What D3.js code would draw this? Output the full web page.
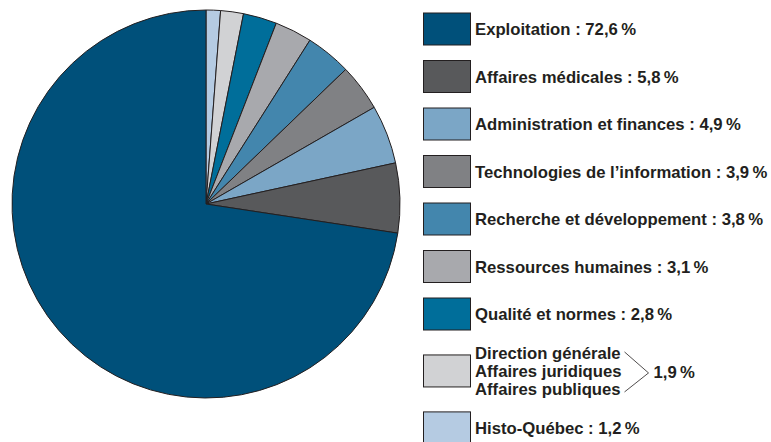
<!DOCTYPE html>
<html>
<head>
<meta charset="utf-8">
<script src="https://cdn.jsdelivr.net/npm/d3@7"></script>
<style>
  body { margin: 0; background: #fff; }
  svg text { font-family: "Liberation Sans", Arial, sans-serif; font-weight: bold; fill: #231f20; }
</style>
</head>
<body>
<svg id="chart" width="771" height="442"></svg>
<script>
// legend order (top to bottom)
const labels = [
    ['Exploitation'],
    ['Affaires médicales'],
    ['Administration et finances'],
    ['Technologies de l\u2019information'],
    ['Recherche et développement'],
    ['Ressources humaines'],
    ['Qualité et normes'],
    ['Direction générale', 'Affaires juridiques', 'Affaires publiques'],
    ['Histo-Québec'],
];
const shares = [72.6, 5.8, 4.9, 3.9, 3.8, 3.1, 2.8, 1.9, 1.2];
const colors = ['#00507a', '#58595b', '#7ba6c6', '#808184', '#4386ad', '#a8a9ad', '#006e9a', '#d1d2d4', '#b5cbe2'];

const locale = d3.formatLocale({ decimal: ',', thousands: '\u00a0', grouping: [3], currency: ['', ''] });
const fmt = v => locale.format('.1f')(v) + '\u2009%';

const svg = d3.select('#chart');
const stroke = '#231f20';

// pie: slices run clockwise from 12 o'clock, smallest first
const items = labels.map((l, i) => ({ label: l, value: shares[i], color: colors[i] }));
const pieOrder = items.slice().reverse();

const cx = 206, cy = 204, radius = 194;
const pie = d3.pie().sort(null).value(d => d.value);
const arc = d3.arc().innerRadius(0).outerRadius(radius);

const g = svg.append('g').attr('transform', `translate(${cx},${cy})`);
g.selectAll('path')
    .data(pie(pieOrder))
    .enter().append('path')
    .attr('d', arc)
    .attr('fill', d => d.data.color)
    .attr('stroke', stroke)
    .attr('stroke-width', 1)
    .attr('stroke-linejoin', 'round');

// legend
const legendX = 423, swatchW = 47, swatchH = 32;
const rowH = 47.5, lineH = 18;
const fontSize = 16.7;

let y = 13 + swatchH / 2 - rowH / 2;
const legend = svg.append('g').attr('class', 'legend');

items.forEach((d) => {
    const h = rowH + (d.label.length - 1) * lineH / 2 * 1.05;
    const mid = y + h / 2;
    const row = legend.append('g');

    row.append('rect')
        .attr('x', legendX + 0.5)
        .attr('y', mid - swatchH / 2)
        .attr('width', swatchW)
        .attr('height', swatchH)
        .attr('fill', d.color)
        .attr('stroke', stroke)
        .attr('stroke-width', 1);

    const tx = legendX + swatchW + 5;
    if (d.label.length === 1) {
        row.append('text')
            .attr('x', tx)
            .attr('y', mid + 6)
            .attr('font-size', fontSize)
            .text(`${d.label[0]} : ${fmt(d.value)}`);
    } else {
        const first = mid + 6 - lineH * (d.label.length - 1) / 2;
        let maxW = 0;
        d.label.forEach((l, j) => {
            const t = row.append('text')
                .attr('x', tx)
                .attr('y', first + j * lineH)
                .attr('font-size', fontSize)
                .text(l);
            maxW = Math.max(maxW, t.node().getComputedTextLength());
        });
        const bx = tx + maxW + 3;
        row.append('polyline')
            .attr('points', `${bx},${mid - 19} ${bx + 24},${mid + 2} ${bx},${mid + 21}`)
            .attr('fill', 'none')
            .attr('stroke', stroke)
            .attr('stroke-width', 0.8);
        row.append('text')
            .attr('x', bx + 29)
            .attr('y', mid + 7)
            .attr('font-size', fontSize)
            .text(fmt(d.value));
    }
    y += h;
});
</script>
</body>
</html>
